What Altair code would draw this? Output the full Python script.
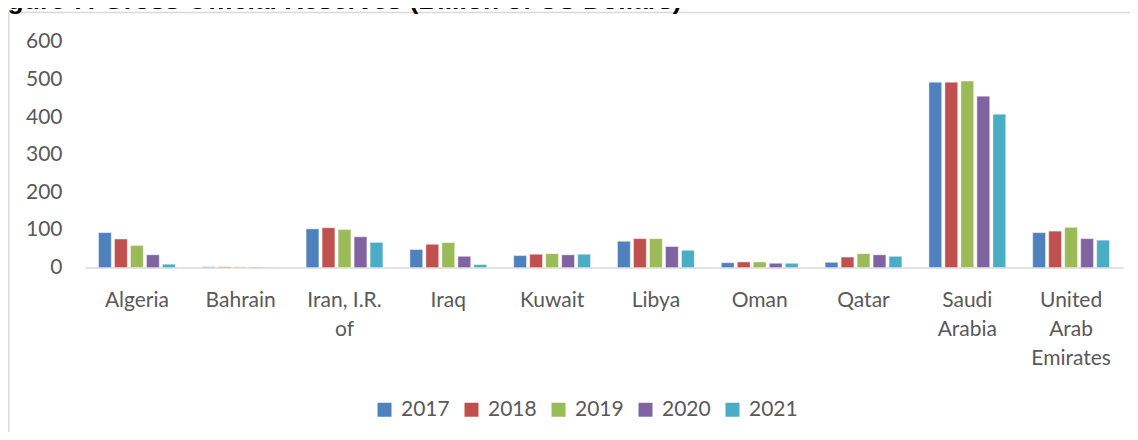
import altair as alt
import pandas as pd

countries = ["Algeria", "Bahrain", "Iran, I.R. of", "Iraq", "Kuwait", "Libya",
             "Oman", "Qatar", "Saudi Arabia", "United Arab Emirates"]
years = ["2017", "2018", "2019", "2020", "2021"]
v2017 = [93, 2, 103, 48, 32, 70, 13, 14, 493, 93]
v2018 = [76, 2, 106, 62, 35.5, 77, 15, 28, 493, 97]
v2019 = [58.5, 2, 101, 66.5, 37, 77, 15, 37, 496, 107]
v2020 = [34, 1.5, 82, 30, 34, 56, 11.5, 34, 456, 77]
v2021 = [9, 1.5, 67, 8, 35.5, 46, 11.5, 30, 408, 73]
y_ticks = [0, 100, 200, 300, 400, 500, 600]
colors = ["#4F81BD", "#C0504D", "#9BBB59", "#8064A2", "#4BACC6"]
title_text = "Figure 7: Gross Official Reserves (Billion of US Dollars)"

rows = []
for yr, vals in zip(years, [v2017, v2018, v2019, v2020, v2021]):
    for c, v in zip(countries, vals):
        rows.append({"country": c, "year": yr, "value": v})
df = pd.DataFrame(rows)

FONT = "Lato"
TXT = "#595959"
label_expr = "datum.value == 'Iran, I.R. of' ? ['Iran, I.R.', 'of'] : split(datum.value, ' ')"

bars = alt.Chart(df).mark_bar(stroke="white", strokeWidth=0.6, strokeOpacity=0.7).encode(
    x=alt.X("country:N", sort=countries,
            scale=alt.Scale(paddingInner=0.2293, paddingOuter=0.1146),
            axis=alt.Axis(title=None, labelAngle=0, labelExpr=label_expr,
                          labelFont=FONT, labelFontSize=21, labelColor=TXT,
                          labelLineHeight=29, labelPadding=22, ticks=False,
                          domainColor="#d9d9d9", domainWidth=1.5,
                          labelLimit=400, labelOverlap=False)),
    xOffset=alt.XOffset("year:N", sort=years,
                        scale=alt.Scale(paddingInner=0.2, paddingOuter=0.1)),
    y=alt.Y("value:Q", scale=alt.Scale(domain=[0, 600], nice=False),
            axis=alt.Axis(title=None, values=y_ticks, grid=False, domain=False,
                          ticks=False, labelFont=FONT, labelFontSize=21,
                          labelColor=TXT, labelPadding=23)),
    color=alt.Color("year:N", sort=years,
                    scale=alt.Scale(domain=years, range=colors),
                    legend=alt.Legend(orient="none", legendX=289, legendY=357,
                                      direction="horizontal", columns=5,
                                      title=None, symbolType="square",
                                      symbolSize=196, symbolStrokeWidth=0,
                                      symbolOpacity=1,
                                      labelFont=FONT, labelFontSize=21,
                                      labelColor=TXT, labelOffset=6,
                                      columnPadding=11, padding=0)),
)

one = pd.DataFrame({"t": [title_text]})

frame_left = alt.Chart(one).mark_rule(color="#d9d9d9", strokeWidth=1.5).encode(
    x=alt.value(-76.25), y=alt.value(-29.5), y2=alt.value(420))
frame_top = alt.Chart(one).mark_rule(color="#d9d9d9", strokeWidth=1.5).encode(
    x=alt.value(-76.25), x2=alt.value(1200), y=alt.value(-29.5))
title = alt.Chart(one).mark_text(font="Liberation Sans", fontWeight="bold",
                                 fontSize=26.5, align="left",
                                 baseline="alphabetic", color="black").encode(
    text="t:N", x=alt.value(-101), y=alt.value(-32.5))

chart = alt.layer(frame_left, frame_top, title, bars).properties(
    width=1038, height=225.6,
    padding={"left": 77, "top": 34, "right": 7, "bottom": 164},
    autosize=alt.AutoSizeParams(type="none"),
    background="white",
).configure_view(stroke=None)

chart.save("out.html", embed_options={"renderer": "svg", "actions": False})
